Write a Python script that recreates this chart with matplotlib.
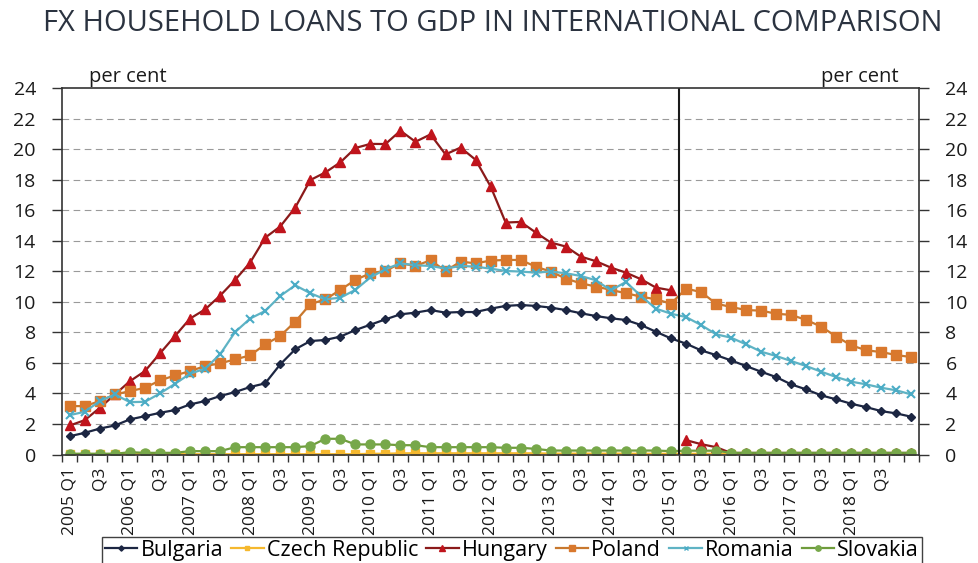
import matplotlib
matplotlib.use("Agg")
import matplotlib.pyplot as plt
import numpy as np
from matplotlib.lines import Line2D

plt.rcParams['font.family'] = ['Open Sans', 'DejaVu Sans']

years = list(range(2005, 2020))
quarters = [f"{y} Q{q}" for y in years for q in range(1, 5)][:57]
tick_labels = [q if q.endswith("Q1") else q.split()[1] for q in quarters]

bulgaria = [1.2, 1.42, 1.7, 1.9, 2.3, 2.51, 2.73, 2.91, 3.28, 3.5, 3.83, 4.09, 4.42, 4.66, 5.9, 6.89,
            7.43, 7.5, 7.72, 8.15, 8.5, 8.85, 9.18, 9.29, 9.46, 9.29, 9.33, 9.33, 9.55, 9.73, 9.79, 9.73,
            9.62, 9.46, 9.25, 9.07, 8.92, 8.81, 8.48, 8.04, 7.6, 7.26, 6.82, 6.51, 6.16, 5.79, 5.42, 5.07,
            4.59, 4.26, 3.87, 3.61, 3.32, 3.1, 2.84, 2.69, 2.47]
czech = [0.03, 0.03, 0.03, 0.03, 0.03, 0.03, 0.03, 0.03, 0.02, 0.02, 0.02, 0.02, 0.02, 0.02, 0.02, 0.02,
         0.02, 0.02, 0.02, 0.02, 0.05, 0.05, 0.08, 0.08, 0.08, 0.08, 0.08, 0.08, 0.08, 0.08, 0.08, 0.08,
         0.06, 0.06, 0.06, 0.06, 0.06, 0.06, 0.05, 0.05, 0.05, 0.05, 0.05, 0.05, 0.05, 0.05, 0.05, 0.05,
         0.05, 0.05, 0.05, 0.05, 0.05, 0.05, 0.05, 0.05, 0.05]
hungary = [1.9, 2.25, 3.06, 3.93, 4.8, 5.46, 6.62, 7.76, 8.9, 9.5, 10.4, 11.43, 12.57, 14.2, 14.93, 16.17,
           17.97, 18.47, 19.13, 20.07, 20.34, 20.33, 21.2, 20.48, 20.96, 19.65, 20.1, 19.3, 17.55, 15.19, 15.23, 14.54,
           13.88, 13.62, 12.96, 12.66, 12.24, 11.91, 11.48, 10.93, 10.75, np.nan, np.nan, np.nan, np.nan, np.nan, np.nan, np.nan,
           np.nan, np.nan, np.nan, np.nan, np.nan, np.nan, np.nan, np.nan, np.nan]
hungary_after = [np.nan] * 41 + [0.94, 0.68, 0.48, 0.1, 0.1, 0.1, 0.1, 0.1, 0.1, 0.1, 0.1, 0.1, 0.1, 0.1, 0.1, 0.1]
poland = [3.17, 3.17, 3.5, 3.93, 4.15, 4.37, 4.85, 5.18, 5.46, 5.79, 5.97, 6.23, 6.49, 7.21, 7.76, 8.7,
          9.84, 10.16, 10.78, 11.43, 11.87, 12.02, 12.52, 12.35, 12.72, 12.02, 12.63, 12.52, 12.7, 12.74, 12.74, 12.3,
          11.98, 11.52, 11.21, 11.0, 10.78, 10.56, 10.34, 10.16, 9.88, 10.86, 10.64, 9.88, 9.66, 9.46, 9.42, 9.22,
          9.14, 8.81, 8.37, 7.72, 7.15, 6.82, 6.71, 6.51, 6.38]
romania = [2.58, 2.8, 3.5, 3.93, 3.43, 3.45, 4.0, 4.63, 5.29, 5.62, 6.56, 8.02, 8.9, 9.4, 10.38, 11.08,
           10.56, 10.16, 10.27, 10.78, 11.6, 12.13, 12.52, 12.39, 12.35, 12.17, 12.35, 12.3, 12.17, 12.02, 11.98, 11.91,
           11.98, 11.87, 11.69, 11.41, 10.75, 11.3, 10.38, 9.55, 9.22, 9.0, 8.48, 7.87, 7.65, 7.21, 6.73, 6.45,
           6.12, 5.79, 5.42, 5.07, 4.77, 4.59, 4.37, 4.2, 3.93]
slovakia = [0.05, 0.05, 0.05, 0.05, 0.15, 0.11, 0.11, 0.11, 0.22, 0.22, 0.22, 0.48, 0.48, 0.48, 0.48, 0.48,
            0.55, 1.03, 1.03, 0.66, 0.66, 0.66, 0.61, 0.61, 0.48, 0.48, 0.48, 0.48, 0.48, 0.44, 0.44, 0.37,
            0.26, 0.26, 0.26, 0.26, 0.26, 0.26, 0.26, 0.26, 0.22, 0.25, 0.25, 0.25, 0.11, 0.11, 0.11, 0.11,
            0.11, 0.11, 0.11, 0.11, 0.11, 0.11, 0.11, 0.11, 0.11]

series = [
    ("Bulgaria", bulgaria, "#1c2642", "#1c2642", "D", 4.5),
    ("Czech Republic", czech, "#f5b82e", "#f5b82e", "s", 6),
    ("Hungary", hungary, "#8b1a1a", "#c0141c", "^", 6.5),
    ("Poland", poland, "#c8782e", "#d9782d", "s", 6.5),
    ("Romania", romania, "#5fb3c4", "#4bacc6", "x", 6),
    ("Slovakia", slovakia, "#6f9c3c", "#77a84a", "o", 6.5),
]

fig = plt.figure(figsize=(9.79, 5.63), dpi=100)
ax = fig.add_axes([0.0636, 0.1927, 0.9387 - 0.0636, 0.8437 - 0.1927])
x = np.arange(len(quarters))

handles = []
for name, vals, lc, mc, mk, ms in series:
    ax.plot(x, vals, color=lc, lw=1.6, marker=mk, ms=ms, mfc=mc, mec=mc, mew=1.5 if mk == "x" else 1)
    if name == "Hungary":
        ax.plot(x, hungary_after, color=lc, lw=1.6, marker=mk, ms=ms, mfc=mc, mec=mc)
    handles.append(Line2D([], [], color=lc, lw=1.6, marker=mk, ms=ms * 0.6, mfc=mc, mec=mc))

ax.axvline(40.5, color="#1a1a1a", lw=1.5)

ax.set_xlim(-0.5, len(quarters) - 0.5)
ax.set_ylim(0, 24)
ax.set_yticks(np.arange(0, 25, 2))
for yv in range(2, 24, 2):
    ax.axhline(yv, color="#9a9a9a", lw=0.8, ls=(0, (6, 4)), zorder=0)

ax.set_xticks(np.arange(-0.5, len(quarters), 1), minor=False)
ax.set_xticklabels([])
ax.set_xticks(np.arange(0, 56, 2), minor=True)
ax.set_xticklabels([tick_labels[i] for i in range(0, 56, 2)], minor=True, rotation=90, fontsize=12.5, color="#1a1a1a")
ax.tick_params(axis="x", which="major", length=5, width=1, color="#333333", direction="out")
ax.tick_params(axis="x", which="minor", length=0, pad=9)
ax.tick_params(axis="y", which="major", length=7, width=1, color="#333333", labelsize=14, labelcolor="#1a1a1a",
               left=True, right=True, labelleft=True, labelright=True, pad=12)
for s in ax.spines.values():
    s.set_color("#333333")
    s.set_linewidth(1.2)

ax.text(0.031, 1.002, "per cent", transform=ax.transAxes, fontsize=14.5, color="#1a1a1a", ha="left", va="bottom")
ax.text(0.976, 1.002, "per cent", transform=ax.transAxes, fontsize=14.5, color="#1a1a1a", ha="right", va="bottom")

fig.text(0.503, 0.958, "FX HOUSEHOLD LOANS TO GDP IN INTERNATIONAL COMPARISON", ha="center", va="center",
         fontsize=21, color="#2b3340")

leg = fig.legend(handles, [s[0] for s in series], loc="upper center", bbox_to_anchor=(0.523, 0.047), ncol=6,
                 frameon=True, fancybox=False, fontsize=15.5, handlelength=1.5, handletextpad=0.15,
                 columnspacing=0.38, borderpad=0.15, borderaxespad=0.0)
leg.get_frame().set_edgecolor("#111111")
leg.get_frame().set_linewidth(1.0)

fig.savefig("out.png", dpi=100)
